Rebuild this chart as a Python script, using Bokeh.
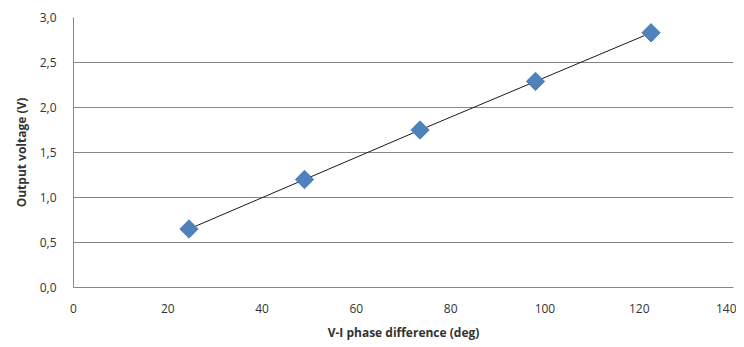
import math
from bokeh.plotting import figure
from bokeh.models import FixedTicker, Range1d
from bokeh.embed import file_html
from bokeh.resources import INLINE

phase_deg = [24.5, 49.0, 73.5, 98.0, 122.5]
voltage_v = [0.65, 1.20, 1.75, 2.29, 2.83]

x_ticks = [0, 20, 40, 60, 80, 100, 120, 140]
y_ticks = [0.0, 0.5, 1.0, 1.5, 2.0, 2.5, 3.0]
y_tick_labels = ["0,0", "0,5", "1,0", "1,5", "2,0", "2,5", "3,0"]

FONT = "Open Sans"

p = figure(width=736, height=343, output_backend="svg", toolbar_location=None,
           x_range=Range1d(0, 140), y_range=Range1d(0, 3.0))
p.min_border_left = 73
p.min_border_right = 3
p.min_border_top = 17
p.min_border_bottom = 55

p.outline_line_color = None
p.background_fill_color = "white"

p.line(phase_deg, voltage_v, line_color="#1a1a1a", line_width=1)
p.scatter(phase_deg, voltage_v, marker="square", size=13, angle=math.pi / 4,
          fill_color="#4F81BD", line_color="#4F81BD")

p.xaxis.ticker = FixedTicker(ticks=x_ticks)
p.yaxis.ticker = FixedTicker(ticks=y_ticks)
p.yaxis.major_label_overrides = {t: l for t, l in zip(y_ticks, y_tick_labels)}

for ax in (p.xaxis[0], p.yaxis[0]):
    ax.axis_line_color = "#868686"
    ax.major_tick_line_color = None
    ax.minor_tick_line_color = None
    ax.major_tick_out = 0
    ax.major_tick_in = 0
    ax.major_label_text_font = FONT
    ax.major_label_text_font_size = "12px"
    ax.major_label_text_color = "#333333"
    ax.axis_label_text_font = FONT
    ax.axis_label_text_font_size = "12px"
    ax.axis_label_text_font_style = "bold"
    ax.axis_label_text_color = "#333333"

p.xaxis.axis_label = "V-I phase difference (deg)"
p.yaxis.axis_label = "Output voltage (V)"
p.xaxis.major_label_standoff = 16
p.yaxis.major_label_standoff = 17
p.xaxis.axis_label_standoff = 8
p.yaxis.axis_label_standoff = 7

p.xgrid.grid_line_color = None
p.ygrid.grid_line_color = "#868686"
p.ygrid.grid_line_width = 1

open("out.html", "w").write(file_html(p, INLINE))
